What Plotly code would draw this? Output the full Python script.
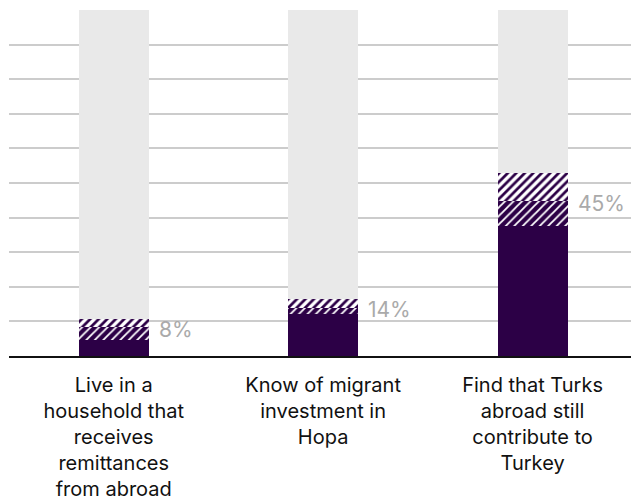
import plotly.graph_objects as go

categories = [
    "Live in a<br>household that<br>receives<br>remittances<br>from abroad",
    "Know of migrant<br>investment in<br>Hopa",
    "Find that Turks<br>abroad still<br>contribute to<br>Turkey",
]
solid_vals = [4.7, 12.1, 37.6]
dense_vals = [3.6, 1.9, 7.1]
light_vals = [2.5, 2.5, 8.2]
labels = ["8%", "14%", "45%"]
label_vals = [8.3, 14.0, 44.7]

purple = "#2c0046"
x = list(range(len(categories)))
rest_vals = [100 - a - b - c for a, b, c in zip(solid_vals, dense_vals, light_vals)]

fig = go.Figure()
fig.add_trace(go.Bar(x=x, y=solid_vals, marker=dict(color=purple, line=dict(width=0))))
fig.add_trace(go.Bar(x=x, y=dense_vals, marker=dict(color=purple, line=dict(width=0),
    pattern=dict(shape="/", fgcolor="#ffffff", bgcolor=purple, size=6, solidity=0.3, fillmode="replace"))))
fig.add_trace(go.Bar(x=x, y=light_vals, marker=dict(color="white", line=dict(width=0),
    pattern=dict(shape="/", fgcolor=purple, bgcolor="white", size=6, solidity=0.45, fillmode="replace"))))
fig.add_trace(go.Bar(x=x, y=rest_vals, marker=dict(color="#e9e9e9", line=dict(width=0))))

for i, (lab, v) in enumerate(zip(labels, label_vals)):
    fig.add_annotation(x=i + 0.167, y=v, text=lab, showarrow=False, xanchor="left",
                       yanchor="middle", xshift=8, yshift=-2,
                       font=dict(family="Inter", size=21, color="#aaaaaa"))

fig.update_layout(
    width=631, height=501,
    margin=dict(l=9, r=0, t=10, b=142),
    barmode="stack", bargap=0.666,
    showlegend=False,
    plot_bgcolor="white", paper_bgcolor="white",
    xaxis=dict(range=[-0.5, 2.47], tickmode="array", tickvals=x, ticktext=categories,
               showgrid=False, showline=True, linecolor="#111111", linewidth=2,
               ticks="", ticklabelstandoff=10,
               tickfont=dict(family="Inter", size=20, color="#111111"), zeroline=False),
    yaxis=dict(range=[0, 100], dtick=10, showgrid=True, gridcolor="#cccccc", gridwidth=2,
               showticklabels=False, zeroline=False, showline=False),
)
fig.write_html("out.html")
